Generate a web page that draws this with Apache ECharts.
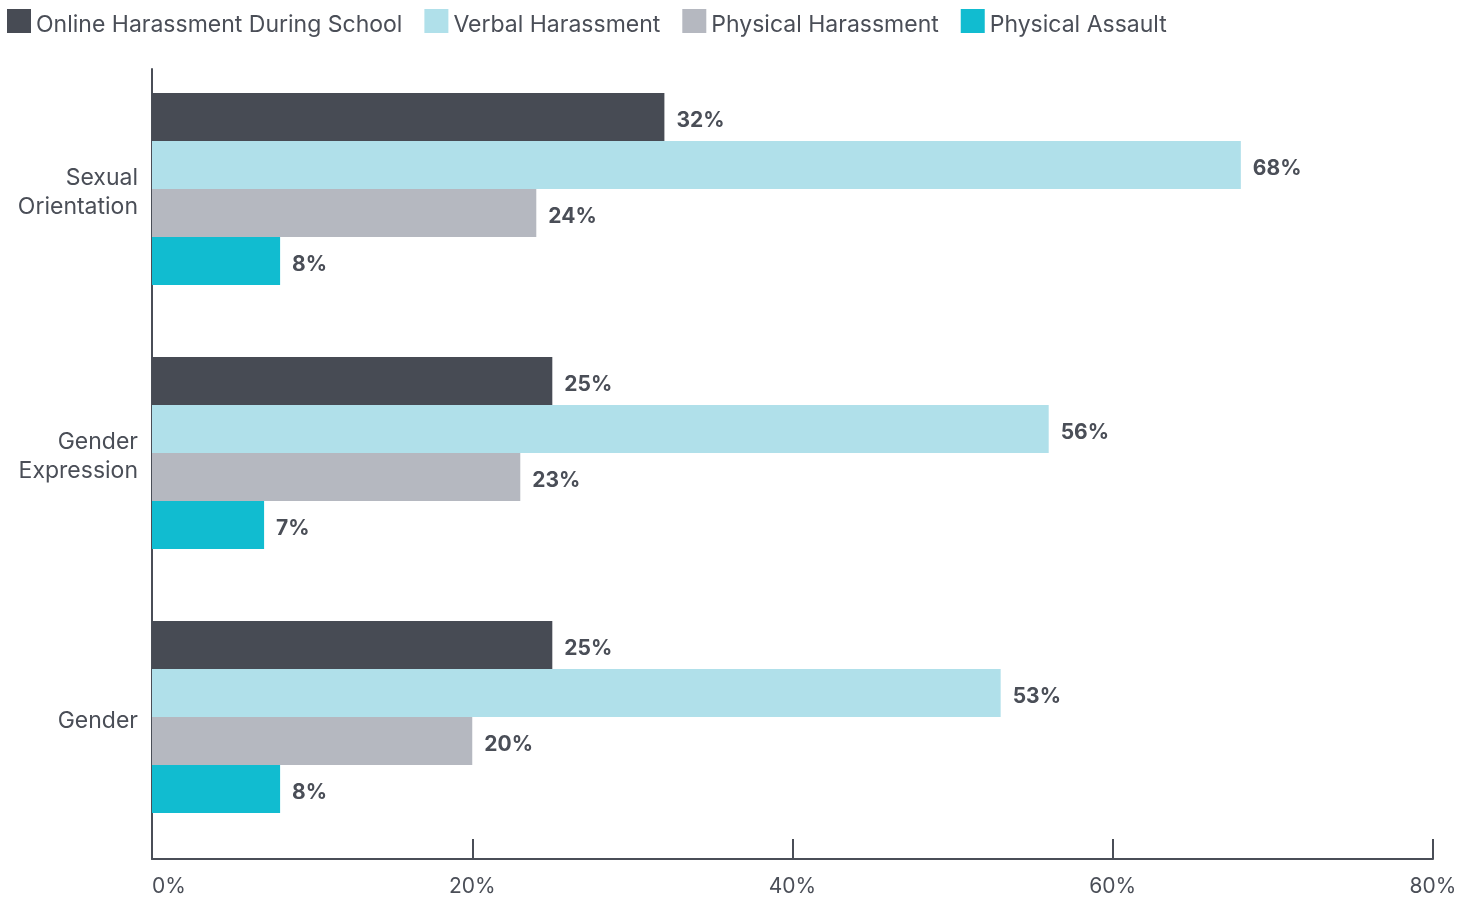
<!DOCTYPE html>
<html>
<head>
<meta charset="utf-8">
<script src="https://cdn.jsdelivr.net/npm/echarts@6/dist/echarts.min.js"></script>
<style>
html,body{margin:0;padding:0;background:#fff;}
#chart{width:1466px;height:898px;}
</style>
</head>
<body>
<div id="chart"></div>
<script>
const categories = ['Gender', 'Gender Expression', 'Sexual Orientation'];
const seriesNames = ['Online Harassment During School', 'Verbal Harassment', 'Physical Harassment', 'Physical Assault'];
const onlineHarassment = [25, 25, 32];
const verbalHarassment = [53, 56, 68];
const physicalHarassment = [20, 23, 24];
const physicalAssault = [8, 7, 8];
const xTicks = [0, 20, 40, 60, 80];

const colors = ['#474b54', '#b0e0ea', '#b5b8c0', '#11bcd0'];
const values = [onlineHarassment, verbalHarassment, physicalHarassment, physicalAssault];
const textColor = '#4a4e57';
const font = 'Inter, "Noto Sans", sans-serif';

const chart = echarts.init(document.getElementById('chart'));
const series = seriesNames.map((name, i) => ({
  name: name,
  type: 'bar',
  xAxisIndex: 0,
  yAxisIndex: 0,
  data: values[i],
  barWidth: 48,
  barGap: '0%',
  itemStyle: { color: colors[i] },
  label: {
    show: true,
    position: 'right',
    distance: 12,
    offset: [0, 4],
    formatter: '{c}%',
    color: textColor,
    fontFamily: font,
    fontWeight: 'bold',
    fontSize: 21
  },
  emphasis: { disabled: true }
}));

chart.setOption({
  animation: false,
  legend: {
    data: seriesNames,
    left: 7,
    top: 9,
    padding: 0,
    itemWidth: 24,
    itemHeight: 24,
    itemGap: 22,
    icon: 'rect',
    formatter: function (name) { return '{t|' + name + '}'; },
    textStyle: {
      color: textColor, fontSize: 23, fontFamily: font,
      rich: { t: { color: textColor, fontSize: 23, fontFamily: font, padding: [8, 0, 0, 0] } }
    }
  },
  grid: [
    { left: 152, right: 33, top: 57, bottom: 49, containLabel: false },
    { left: 152, right: 33, top: 69, bottom: 39, containLabel: false }
  ],
  xAxis: [
    {
      type: 'value',
      gridIndex: 0,
      min: xTicks[0],
      max: xTicks[xTicks.length - 1],
      interval: 20,
      offset: 10,
      axisLine: { show: true, lineStyle: { color: textColor, width: 2 } },
      axisTick: { show: true, inside: true, length: 20, lineStyle: { color: textColor, width: 2 } },
      splitLine: { show: false },
      axisLabel: {
        formatter: '{value}%',
        color: textColor,
        fontSize: 21,
        fontFamily: font,
        margin: 17,
        alignMinLabel: 'left'
      }
    },
    {
      type: 'value', gridIndex: 1, min: 0, max: 1, show: false
    }
  ],
  yAxis: [
    {
      type: 'category',
      gridIndex: 0,
      data: categories,
      axisLine: { show: false },
      axisTick: { show: false },
      axisLabel: {
        color: textColor,
        fontSize: 23,
        fontFamily: font,
        margin: 14,
        align: 'right',
        formatter: function (v) {
          return '{s|}\n' + v.split(' ').map(function (w) { return '{a|' + w + '}'; }).join('\n');
        },
        rich: {
          s: { lineHeight: 8, fontSize: 8 },
          a: { color: textColor, fontSize: 23, fontFamily: font, lineHeight: 29, align: 'right' }
        }
      }
    },
    {
      type: 'value',
      gridIndex: 1,
      min: 0,
      max: 1,
      axisLine: { show: true, lineStyle: { color: textColor, width: 2 } },
      axisTick: { show: false },
      axisLabel: { show: false },
      splitLine: { show: false }
    }
  ],
  series: series
});
</script>
</body>
</html>
